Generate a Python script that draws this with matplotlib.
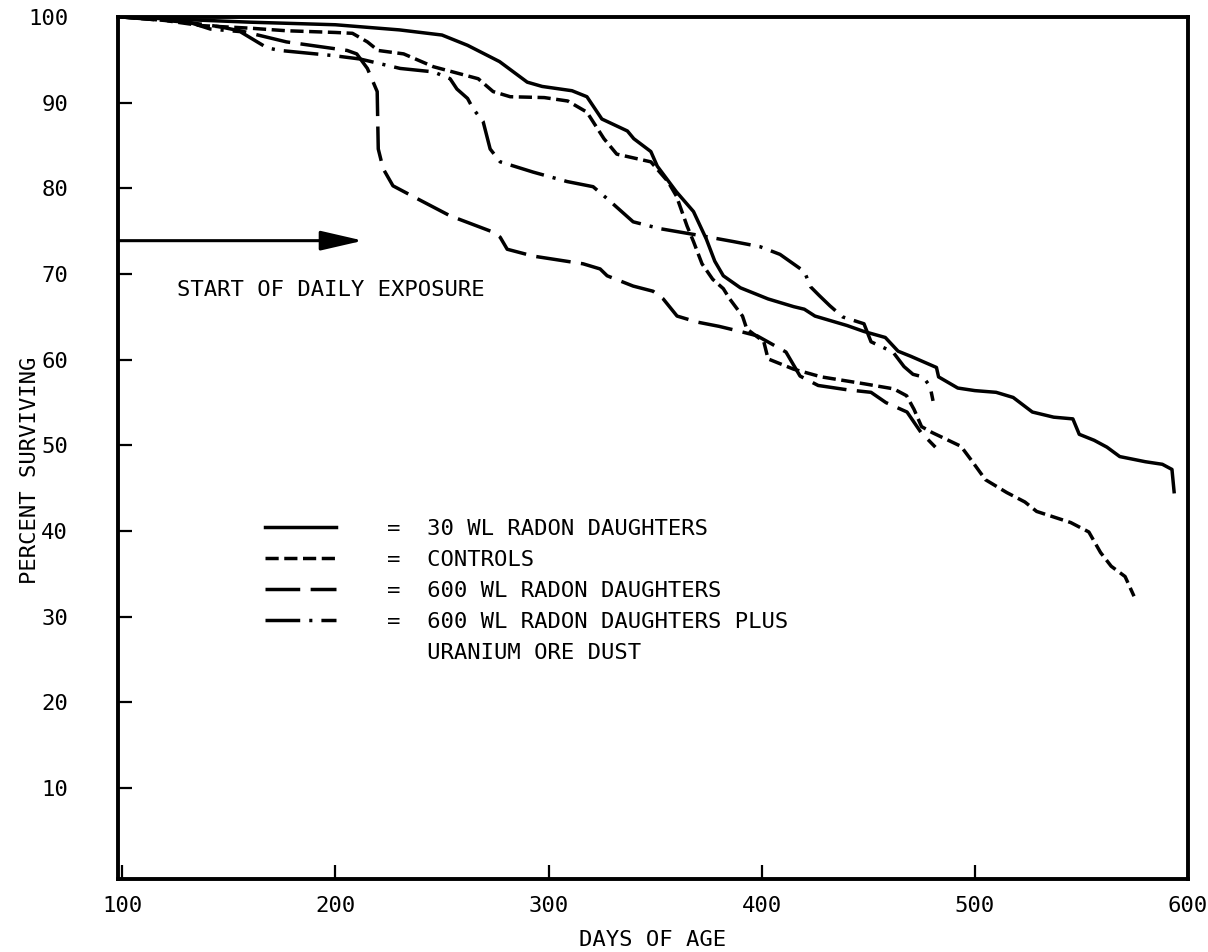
import matplotlib

matplotlib.use("Agg")
import matplotlib.pyplot as plt
from matplotlib.lines import Line2D

plt.rcParams["font.family"] = ["DejaVu Sans Mono"]

# Survival curves, percent surviving vs days of age
WL30_DAYS = [100, 130, 160, 200, 230, 250, 262, 277, 290, 297, 311, 318, 325,
             337, 340, 348, 351, 360, 368, 374, 378, 382, 390, 403, 415, 420,
             425, 440, 448, 458, 464, 470, 482, 483, 492, 500, 510, 518, 527,
             537, 546, 549, 556, 562, 568, 580, 588, 592.5, 593.5]
WL30_PCT = [100, 99.7, 99.4, 99.1, 98.5, 97.9, 96.7, 94.8, 92.4, 91.9, 91.4,
            90.7, 88.1, 86.7, 85.8, 84.3, 82.6, 79.6, 77.3, 74.1, 71.5, 69.8,
            68.4, 67.1, 66.2, 65.9, 65.1, 64.0, 63.3, 62.6, 61.0, 60.4, 59.1,
            58.0, 56.7, 56.4, 56.2, 55.6, 53.9, 53.3, 53.1, 51.3, 50.6, 49.8,
            48.7, 48.1, 47.8, 47.2, 44.6]

CTRL_DAYS = [100, 120, 137, 160, 177, 200, 208, 215, 220, 232, 246, 267, 274,
             282, 298, 309, 318, 326, 332, 348, 356, 360, 365, 368, 372, 377,
             382, 385, 391, 393, 401, 403, 415, 428, 448, 462, 468, 471.5, 475,
             480, 493.5, 498, 505, 515, 523.5, 529, 545, 553.5, 559, 564,
             570.5, 574.7]
CTRL_PCT = [100, 99.6, 99.0, 98.7, 98.4, 98.2, 98.1, 97.1, 96.1, 95.7, 94.2,
            92.8, 91.3, 90.7, 90.6, 90.2, 88.9, 85.8, 84.0, 83.1, 80.8, 79.1,
            75.6, 73.8, 71.2, 69.4, 68.3, 67.1, 65.1, 63.6, 62.1, 60.1, 58.9,
            58.0, 57.2, 56.6, 55.8, 54.2, 52.2, 51.5, 49.9, 48.4, 46.0, 44.5,
            43.4, 42.3, 41.0, 39.9, 37.5, 35.9, 34.7, 32.4]

WL600_DAYS = [100, 130, 145, 157, 177, 205.5, 210, 215, 219.6, 220.1, 222.4,
              227, 238.4, 253.8, 274, 277.3, 280.6, 292.8, 316.2, 324.2, 327.5,
              339.7, 349, 353.8, 360.3, 369.7, 380, 390, 397.8, 405, 411.4,
              418, 426.5, 440, 451.3, 458.3, 468.2, 474.8, 481.5]
WL600_PCT = [100, 99.4, 98.9, 98.3, 97.1, 96.1, 95.7, 94.0, 91.3, 84.6, 82.3,
             80.3, 78.8, 76.8, 74.9, 74.3, 72.9, 72.1, 71.2, 70.6, 69.8, 68.6,
             68.0, 67.1, 65.1, 64.4, 63.9, 63.3, 62.8, 61.8, 60.9, 58.1, 57.0,
             56.5, 56.2, 55.0, 53.9, 51.5, 49.8]

ORE_DAYS = [100, 130, 141.3, 155.3, 163.3, 168, 174, 199, 211.6, 230.4, 246,
            253.8, 257, 262, 264.6, 269.3, 272.6, 277.3, 292.8, 308.7, 320.9,
            327.5, 339.7, 352.3, 371.1, 386.6, 399.2, 408.6, 416, 420, 423, 427,
            432, 438, 448, 451.3, 461.6, 466.8, 471, 475.7, 479, 480.4]
ORE_PCT = [100, 99.5, 98.6, 98.3, 97.1, 96.4, 96.1, 95.5, 95.1, 94.0, 93.6,
           92.8, 91.6, 90.5, 89.3, 87.8, 84.6, 83.1, 81.9, 80.8, 80.2, 78.8,
           76.1, 75.3, 74.5, 73.8, 73.2, 72.3, 71.0, 70.3, 68.5, 67.5, 66.3,
           65.0, 64.2, 62.1, 60.9, 59.2, 58.3, 58.0, 56.9, 55.2]

LABELS = [
    "=  30 WL RADON DAUGHTERS",
    "=  CONTROLS",
    "=  600 WL RADON DAUGHTERS",
    "=  600 WL RADON DAUGHTERS PLUS",
    "   URANIUM ORE DUST",
]

X_TICKS = [100, 200, 300, 400, 500, 600]
Y_TICKS = [10, 20, 30, 40, 50, 60, 70, 80, 90, 100]

EXPOSURE_START_PCT = 73.9
EXPOSURE_ARROW_END = 213

LW = 2.5
STYLES = [
    dict(linestyle="-"),
    dict(linestyle=(0, (3.8, 1.6))),
    dict(linestyle=(0, (10, 3))),
    dict(linestyle=(0, (10, 2.6, 0.9, 2.6))),
]

fig = plt.figure(figsize=(12.08, 9.52), dpi=100)
ax = fig.add_axes([0.0977, 0.0767, 0.8857, 0.9054])

series = [(WL30_DAYS, WL30_PCT), (CTRL_DAYS, CTRL_PCT),
          (WL600_DAYS, WL600_PCT), (ORE_DAYS, ORE_PCT)]
handles = []
for (xs, ys), style in zip(series, STYLES):
    line, = ax.plot(xs, ys, color="black", lw=LW, solid_joinstyle="round",
                    dash_joinstyle="round", **style)
    handles.append(line)
# second line of the last label has no key of its own
handles.append(Line2D([], [], linestyle="none"))

ax.set_xlim(98, 600)
ax.set_ylim(-0.6, 100)
ax.set_xticks(X_TICKS)
ax.set_yticks(Y_TICKS)
ax.tick_params(axis="both", direction="in", length=10, width=1.6,
               labelsize=16, color="black")
ax.tick_params(axis="x", pad=12)
ax.tick_params(axis="y", pad=36)
for spine in ax.spines.values():
    spine.set_linewidth(2.8)

ax.set_xlabel("DAYS OF AGE", fontsize=16, va="center")
ax.xaxis.set_label_coords(0.5, -0.071)
ax.set_ylabel("PERCENT SURVIVING", fontsize=16, va="center")
ax.yaxis.set_label_coords(-0.082, 0.474)

ax.annotate("", xy=(EXPOSURE_ARROW_END, EXPOSURE_START_PCT),
            xytext=(98, EXPOSURE_START_PCT),
            arrowprops=dict(arrowstyle="-|>,head_length=1.3,head_width=0.3",
                            lw=2.2, color="black", mutation_scale=20,
                            shrinkA=0, shrinkB=0),
            annotation_clip=False)
ax.text(125.8, 68.1, "START OF DAILY EXPOSURE", fontsize=16, va="center")

ax.legend(handles, LABELS, loc="upper left", bbox_to_anchor=(0.137, 0.418),
          frameon=False, fontsize=16, handlelength=3.2, handletextpad=2.3,
          labelspacing=0.5, borderpad=0, borderaxespad=0)

fig.savefig("out.png", dpi=100)
